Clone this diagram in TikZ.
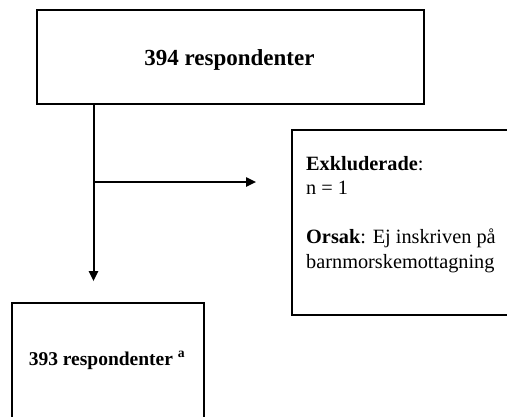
\documentclass[tikz,border=0pt]{standalone}
\usepackage{fontspec}
\setmainfont{Liberation Serif}
\usetikzlibrary{arrows.meta}
\begin{document}
\begin{tikzpicture}[x=1bp,y=-1bp,
  box/.style={draw, line width=1.7bp, rectangle, inner sep=0pt},
  conn/.style={line width=2bp},
  arr/.style={conn, -{Triangle[length=10bp,width=9bp]}},
  txt/.style={inner sep=0pt, anchor=base west, font=\fontsize{20.3bp}{24bp}\selectfont}]
\useasboundingbox (0,0) rectangle (507,416);
\clip (0,0) rectangle (507,416);
% boxes
\node[box, minimum width=387bp, minimum height=94bp] (top) at (230.5,57) {};
\node[inner sep=0pt, anchor=base, font=\fontsize{23bp}{27bp}\selectfont\bfseries] (toptxt) at (229.5,65) {394 respondenter};
\node[box, minimum width=228bp, minimum height=185bp] (excl) at (406,222.2) {};
\node[txt] (l1) at (306,170) {\textbf{Exkluderade}:};
\node[txt] (l2) at (306,194.5) {n = 1};
\node[txt] (l3) at (306,243.5) {\textbf{Orsak}: Ej inskriven på};
\node[txt] (l4) at (306,268) {barnmorskemottagning};
\node[box, minimum width=192bp, minimum height=130bp] (bot) at (108,368) {};
\node[inner sep=0pt, anchor=base, font=\fontsize{19.5bp}{23bp}\selectfont\bfseries] (bottxt) at (107,365) {393 respondenter \textsuperscript{a}};
% connectors
\coordinate (split) at (93.5,182);
\draw[arr, shorten >=21bp] (top.south -| split) -- (bot.north -| split);
\draw[arr, shorten >=35bp] (split) -- (excl.west |- split);
\end{tikzpicture}
\end{document}
